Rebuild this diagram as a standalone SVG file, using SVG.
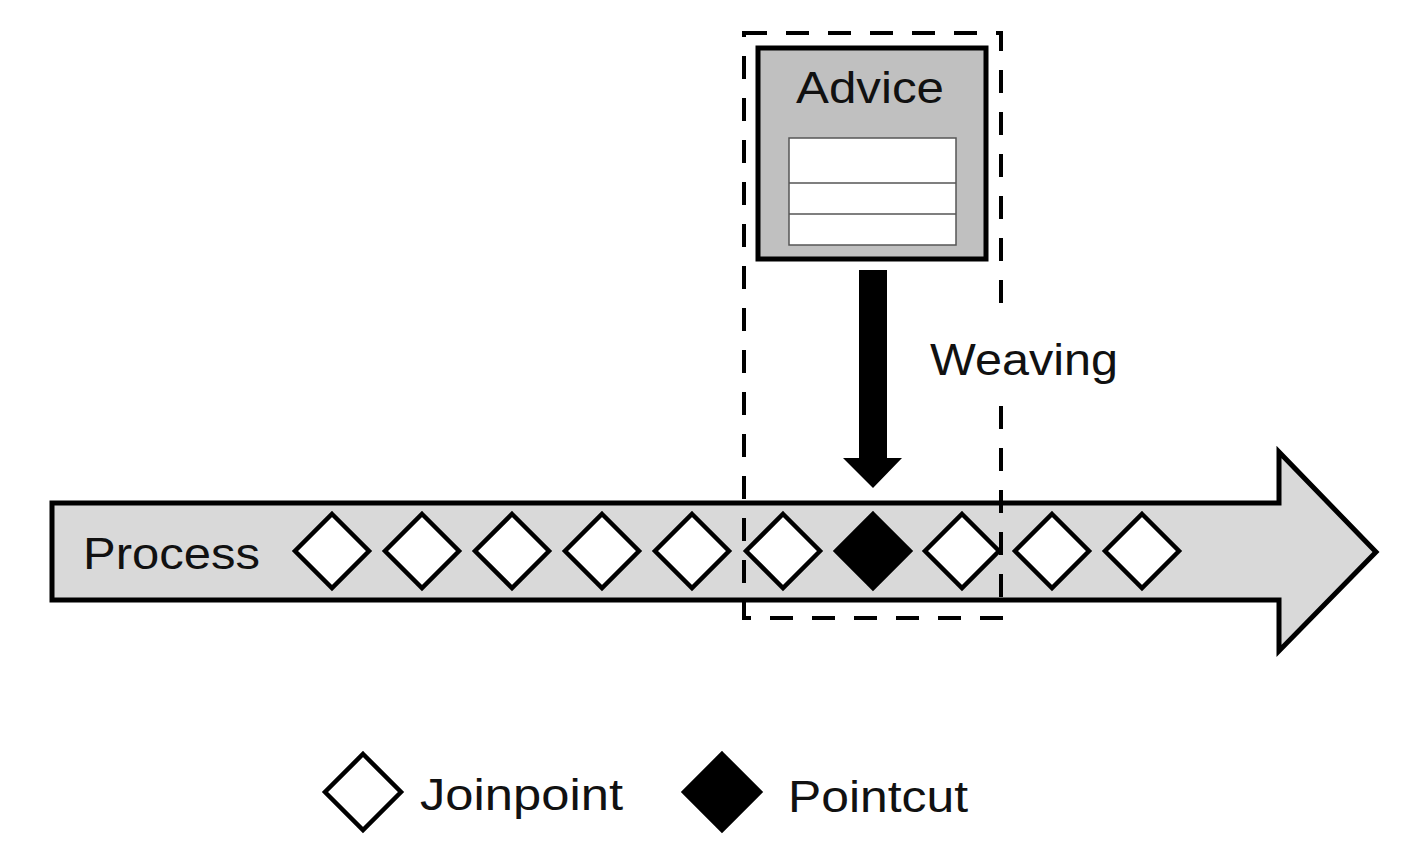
<svg xmlns="http://www.w3.org/2000/svg" width="1412" height="862" viewBox="0 0 1412 862">
<style>
text{font-family:"Liberation Sans",Arial,sans-serif;font-size:44px;fill:#111}
.jp{fill:#fff;stroke:#000;stroke-width:4.5;stroke-linejoin:miter}
.pc{fill:#000;stroke:#000;stroke-width:4.5}
</style>
<defs>
<path id="d" d="M0,-37 L37,0 L0,37 L-37,0 Z"/>
<path id="ld" d="M0,-38 L38,0 L0,38 L-38,0 Z"/>
</defs>
<rect width="1412" height="862" fill="#fff"/>
<g id="process">
<path d="M52,503 L1279,503 L1279,452 L1376,552 L1279,651 L1279,600 L52,600 Z" fill="#d9d9d9" stroke="#000" stroke-width="5" stroke-linejoin="miter"/>
<text x="83" y="569" textLength="177" lengthAdjust="spacingAndGlyphs">Process</text>
</g>
<g id="joinpoints">
<use href="#d" x="332" y="551" class="jp"/>
<use href="#d" x="422" y="551" class="jp"/>
<use href="#d" x="512" y="551" class="jp"/>
<use href="#d" x="602" y="551" class="jp"/>
<use href="#d" x="692" y="551" class="jp"/>
<use href="#d" x="783" y="551" class="jp"/>
<use href="#d" x="873" y="551" class="pc"/>
<use href="#d" x="962" y="551" class="jp"/>
<use href="#d" x="1052" y="551" class="jp"/>
<use href="#d" x="1142" y="551" class="jp"/>
</g>
<g id="advice">
<rect x="758" y="48" width="228" height="211" fill="#c0c0c0" stroke="#000" stroke-width="5"/>
<text x="870" y="103" text-anchor="middle" textLength="148" lengthAdjust="spacingAndGlyphs">Advice</text>
<rect x="789" y="138" width="167" height="107" fill="#fff" stroke="#555" stroke-width="1.5"/>
<line x1="789" y1="183" x2="956" y2="183" stroke="#555" stroke-width="1.5"/>
<line x1="789" y1="214" x2="956" y2="214" stroke="#555" stroke-width="1.5"/>
</g>
<g id="connectors">
<rect x="744" y="33" width="257" height="585" fill="none" stroke="#000" stroke-width="4" stroke-dasharray="23 19"/>
<path d="M859,270 L887,270 L887,458 L902,458 L873,488 L843,458 L859,458 Z" fill="#000"/>
</g>
<g id="weaving">
<rect x="926" y="319" width="196" height="77" fill="#fff"/>
<text x="930" y="375" textLength="188" lengthAdjust="spacingAndGlyphs">Weaving</text>
</g>
<g id="legend">
<use href="#ld" x="363" y="792" class="jp"/>
<text x="420" y="810" textLength="203" lengthAdjust="spacingAndGlyphs">Joinpoint</text>
<use href="#ld" x="722" y="792" class="pc"/>
<text x="788" y="812" textLength="180" lengthAdjust="spacingAndGlyphs">Pointcut</text>
</g>
</svg>
